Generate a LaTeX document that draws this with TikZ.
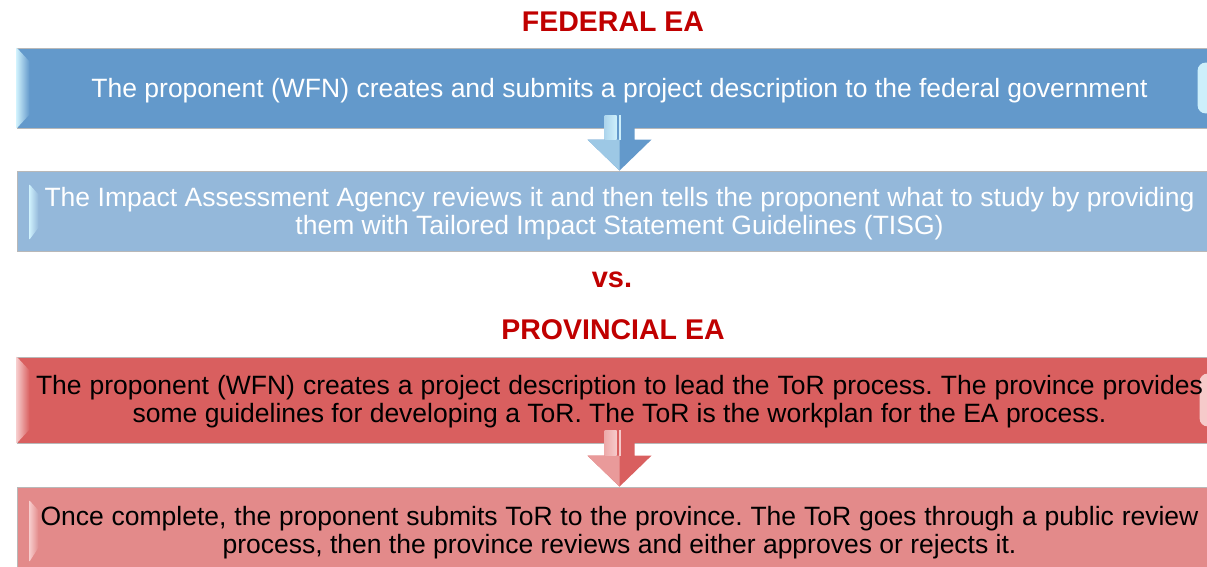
\documentclass[tikz,border=0pt]{standalone}
\usepackage{fontspec}
\setmainfont{Liberation Sans}
\usetikzlibrary{calc}
\frenchspacing

\definecolor{fedblue}{HTML}{6399CB}
\definecolor{fedlight}{HTML}{94B8DA}
\definecolor{provred}{HTML}{D95F5F}
\definecolor{provpink}{HTML}{E38A8A}
\definecolor{titlered}{HTML}{C00000}
\definecolor{bevblue}{HTML}{CDEFFB}
\definecolor{bevred}{HTML}{F6CACA}

\tikzset{
	stagebox/.style={rectangle, minimum width=1205pt, minimum height=80pt, inner sep=0pt,
		draw=black!28, line width=0.8pt},
	stagetext/.style={inner sep=0pt, align=center, font=\fontsize{26.5}{28}\selectfont},
	heading/.style={font=\fontsize{28.5}{32}\selectfont\bfseries, text=titlered},
}

% block arrow between two boxes: from, to, colour, highlight
\newcommand{\blockarrow}[4]{
	\fill[#3] ($(#1)+(-15,-13)$) -- ($(#1)+(15,-13)$) -- ($(#2)+(15,-31)$) -- ($(#2)+(32,-31)$)
		-- (#2) -- ($(#2)+(-32,-31)$) -- ($(#2)+(-15,-31)$) -- cycle;
	\fill[#4!55!#3] ($(#2)+(-32,-31)$) -- ($(#2)+(0,-31)$) -- (#2) -- cycle;
	\shade[left color=#4!70!#3, right color=#4] ($(#1)+(-15,-13)$) rectangle ($(#2)+(-3,-31)$);
	\fill[#4] ($(#1)+(-1,-13)$) rectangle ($(#2)+(1,-31)$);
}

\begin{document}
\begin{tikzpicture}[x=1pt,y=-1pt]
	\useasboundingbox (0,0) rectangle (1207,567);
	\clip (0,0) rectangle (1207,567);

	\node[heading] (fedtitle) at (613,22) {FEDERAL EA};
	\node[stagebox, fill=fedblue] (fedsubmit) at (619.5,88) {};
	\node[stagebox, fill=fedlight] (fedtisg) at (619.5,211) {};

	\node[heading, font=\fontsize{29}{32}\selectfont\bfseries] (versus) at (612,280) {vs.};

	\node[heading] (provtitle) at (613,330) {PROVINCIAL EA};
	\node[stagebox, minimum height=86pt, fill=provred] (provdesc) at (619.5,400) {};
	\node[stagebox, minimum height=86pt, fill=provpink] (provtor) at (619.5,530) {};

	% bevels on the left edges
	\shade[left color=bevblue, right color=fedblue] (fedsubmit.north west) -- ($(fedsubmit.north west)+(13,14)$)
		-- ($(fedsubmit.south west)+(13,-14)$) -- (fedsubmit.south west) -- cycle;
	\shade[left color=bevred, right color=provred] (provdesc.north west) -- ($(provdesc.north west)+(13,14)$)
		-- ($(provdesc.south west)+(13,-14)$) -- (provdesc.south west) -- cycle;
	\shade[left color=bevblue, right color=fedlight] ($(fedtisg.north west)+(13,14)$) -- ($(fedtisg.north west)+(22,24)$)
		-- ($(fedtisg.south west)+(22,-24)$) -- ($(fedtisg.south west)+(13,-12)$) -- cycle;
	\shade[left color=bevred, right color=provpink] ($(provtor.north west)+(13,14)$) -- ($(provtor.north west)+(22,24)$)
		-- ($(provtor.south west)+(22,-26)$) -- ($(provtor.south west)+(13,-12)$) -- cycle;

	% highlights on the right edges
	\fill[bevblue, rounded corners=8pt] ($(fedsubmit.north west)+(1181,15)$) rectangle ($(fedsubmit.south west)+(1200,-15)$);
	\fill[bevred, rounded corners=8pt] ($(provdesc.north west)+(1183,17)$) rectangle ($(provdesc.south west)+(1200,-17)$);

	\blockarrow{fedsubmit.south}{fedtisg.north}{fedblue}{bevblue}
	\blockarrow{provdesc.south}{provtor.north}{provred}{bevred}

	% box texts
	\node[stagetext, text=white] (fedsubmittext) at ($(fedsubmit.center)+(0,3)$)
		{The proponent (WFN) creates and submits a project description to the federal government};
	\node[stagetext, text=white] (fedtisgtext) at ($(fedtisg.center)+(0,3)$)
		{\makebox[1150pt][s]{The Impact Assessment Agency reviews it and then tells the proponent what to study by providing}\\
		them with Tailored Impact Statement Guidelines (TISG)};
	\node[stagetext] (provdesctext) at ($(provdesc.center)+(0,2)$)
		{\makebox[1167pt][s]{The proponent (WFN) creates a project description to lead the ToR process. The province provides}\\
		some guidelines for developing a ToR. The ToR is the workplan for the EA process.};
	\node[stagetext] (provtortext) at ($(provtor.center)+(0,3)$)
		{\makebox[1158pt][s]{Once complete, the proponent submits ToR to the province. The ToR goes through a public review}\\
		process, then the province reviews and either approves or rejects it.};
\end{tikzpicture}
\end{document}
